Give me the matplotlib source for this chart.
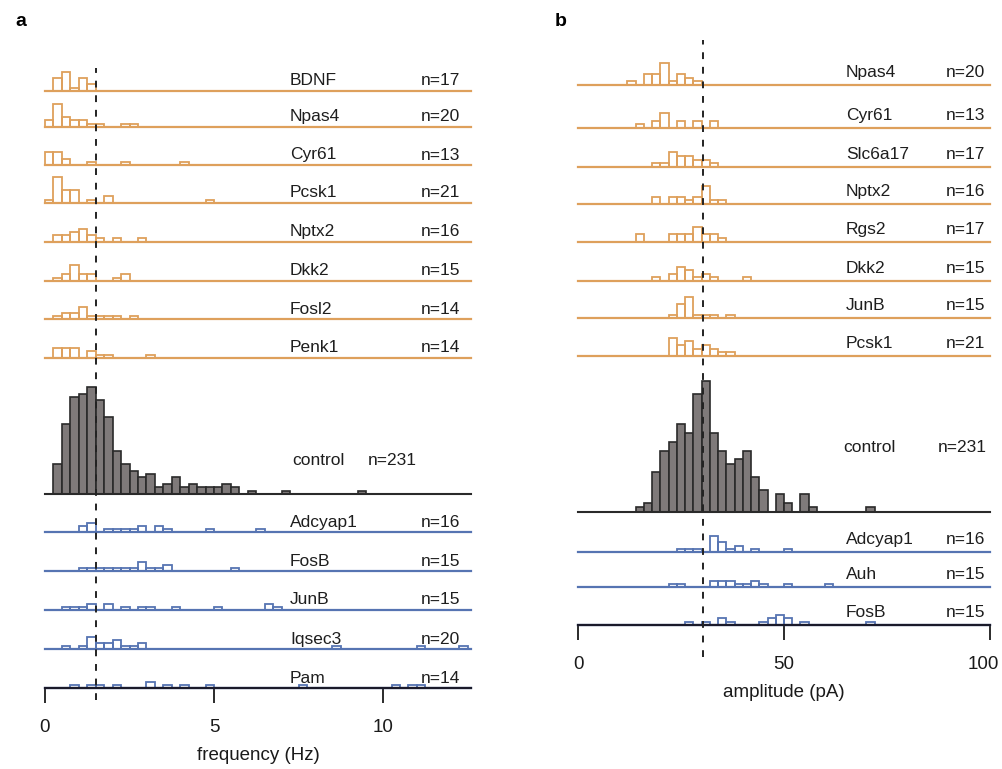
import matplotlib
matplotlib.use("Agg")
import matplotlib.pyplot as plt
from matplotlib.transforms import ScaledTranslation

# ---- data: histogram counts (bin left edge -> count) ----
# panel a: event frequency, 0.25 Hz bins
freq_bw = 0.25
freq_up_genes = ["BDNF", "Npas4", "Cyr61", "Pcsk1", "Nptx2", "Dkk2", "Fosl2", "Penk1"]
freq_up_n = [17, 20, 13, 21, 16, 15, 14, 14]
freq_up_bins = [
    [0.25, 0.5, 0.75, 1.0, 1.25],
    [0, 0.25, 0.5, 0.75, 1.0, 1.25, 1.5, 2.25, 2.5],
    [0, 0.25, 0.5, 1.25, 2.25, 4.0],
    [0, 0.25, 0.5, 0.75, 1.25, 1.75, 4.75],
    [0.25, 0.5, 0.75, 1.0, 1.25, 1.5, 2.0, 2.75],
    [0.25, 0.5, 0.75, 1.0, 1.25, 2.0, 2.25],
    [0.25, 0.5, 0.75, 1.0, 1.25, 1.5, 1.75, 2.0, 2.5],
    [0.25, 0.5, 0.75, 1.25, 1.5, 1.75, 3.0],
]
freq_up_counts = [
    [4, 6, 1, 4, 2],
    [2, 7, 3, 2, 2, 1, 1, 1, 1],
    [4, 4, 2, 1, 1, 1],
    [1, 8, 4, 4, 1, 2, 1],
    [2, 2, 3, 4, 2, 1, 1, 1],
    [1, 2, 5, 2, 2, 1, 2],
    [1, 2, 2, 4, 1, 1, 1, 1, 1],
    [3, 3, 3, 2, 1, 1, 1],
]
freq_ctrl_bins = [0.25, 0.5, 0.75, 1.0, 1.25, 1.5, 1.75, 2.0, 2.25, 2.5, 2.75, 3.0, 3.25,
                  3.5, 3.75, 4.0, 4.25, 4.5, 4.75, 5.0, 5.25, 5.5, 6.0, 7.0, 9.25]
freq_ctrl_counts = [9, 21, 29, 30, 32, 28, 23, 13, 9, 7, 5, 6, 2,
                    3, 5, 2, 3, 2, 2, 2, 3, 2, 1, 1, 1]
freq_ctrl_n = 231
freq_dn_genes = ["Adcyap1", "FosB", "JunB", "Iqsec3", "Pam"]
freq_dn_n = [16, 15, 15, 20, 14]
freq_dn_bins = [
    [1.0, 1.25, 1.75, 2.0, 2.25, 2.5, 2.75, 3.25, 3.5, 4.75, 6.25],
    [1.0, 1.25, 1.5, 1.75, 2.0, 2.25, 2.5, 2.75, 3.0, 3.25, 3.5, 5.5],
    [0.5, 0.75, 1.0, 1.25, 1.75, 2.25, 2.75, 3.0, 3.75, 5.0, 6.5, 6.75],
    [0.5, 1.0, 1.25, 1.5, 1.75, 2.0, 2.25, 2.5, 2.75, 8.5, 11.0, 12.25],
    [0.75, 1.25, 1.5, 2.0, 3.0, 3.5, 4.0, 4.75, 7.5, 10.25, 10.75, 11.0],
]
freq_dn_counts = [
    [2, 3, 1, 1, 1, 1, 2, 2, 1, 1, 1],
    [1, 1, 1, 1, 1, 1, 1, 3, 1, 1, 2, 1],
    [1, 1, 1, 2, 2, 1, 1, 1, 1, 1, 2, 1],
    [1, 1, 4, 2, 2, 3, 1, 1, 2, 1, 1, 1],
    [1, 1, 1, 1, 2, 1, 1, 1, 1, 1, 1, 1],
]
freq_median = 1.5

# panel b: event amplitude, 2 pA bins
amp_bw = 2
amp_up_genes = ["Npas4", "Cyr61", "Slc6a17", "Nptx2", "Rgs2", "Dkk2", "JunB", "Pcsk1"]
amp_up_n = [20, 13, 17, 16, 17, 15, 15, 21]
amp_up_bins = [
    [12, 16, 18, 20, 22, 24, 26, 28],
    [14, 18, 20, 24, 28, 32],
    [18, 20, 22, 24, 26, 28, 30, 32],
    [18, 22, 24, 26, 28, 30, 32, 34],
    [14, 22, 24, 26, 28, 30, 32, 34],
    [18, 22, 24, 26, 28, 30, 32, 40],
    [22, 24, 26, 28, 30, 32, 36],
    [22, 24, 26, 28, 30, 32, 34, 36],
]
amp_up_counts = [
    [1, 3, 3, 6, 1, 3, 2, 1],
    [1, 2, 4, 2, 2, 2],
    [1, 1, 4, 3, 3, 2, 2, 1],
    [2, 2, 2, 1, 2, 5, 1, 1],
    [2, 2, 2, 2, 4, 2, 2, 1],
    [1, 2, 4, 3, 1, 2, 1, 1],
    [1, 4, 6, 1, 1, 1, 1],
    [5, 3, 4, 2, 3, 2, 1, 1],
]
amp_ctrl_bins = [14, 16, 18, 20, 22, 24, 26, 28, 30, 32, 34, 36, 38, 40, 42, 44,
                 48, 50, 54, 56, 70]
amp_ctrl_counts = [1, 2, 9, 14, 16, 20, 18, 27, 30, 18, 14, 11, 12, 14, 8, 5,
                   4, 2, 4, 1, 1]
amp_ctrl_n = 231
amp_dn_genes = ["Adcyap1", "Auh", "FosB"]
amp_dn_n = [16, 15, 15]
amp_dn_bins = [
    [24, 26, 28, 32, 34, 36, 38, 42, 50],
    [22, 24, 32, 34, 36, 38, 40, 42, 44, 50, 60],
    [26, 30, 34, 36, 44, 46, 48, 50, 54, 70],
]
amp_dn_counts = [
    [1, 1, 1, 5, 3, 1, 2, 1, 1],
    [1, 1, 2, 2, 2, 1, 1, 2, 1, 1, 1],
    [1, 1, 2, 1, 1, 2, 3, 2, 1, 1],
]
amp_median = 30.3

# ---- layout (pixels of the 1003x769 figure) ----
W, H = 1003, 769
ORANGE = "#DEA05C"
BLUE = "#5674B2"
FILL = "#7f7a7a"
EDGE = "#2a2a2a"
TXT = "#1e1e1e"

plt.rcParams["font.family"] = ["Liberation Sans", "DejaVu Sans"]

fig = plt.figure(figsize=(W / 100, H / 100), dpi=100)

PANELS = {
    "a": dict(x0=45, width=426, xmax=12.6, bw=freq_bw,
              name_x=0.575, n_x=0.974, dy=5.5,
              ctrl_name_x=0.581, ctrl_n_x=0.872, ctrl_dy=29),
    "b": dict(x0=578, width=412, xmax=100, bw=amp_bw,
              name_x=0.65, n_x=0.988, dy=8,
              ctrl_name_x=0.643, ctrl_n_x=0.993, ctrl_dy=60),
}


def row_axes(p, base, height):
    ax = fig.add_axes([p["x0"] / W, 1 - base / H, p["width"] / W, height / H])
    ax.set_xlim(0, p["xmax"])
    ax.patch.set_visible(False)
    for s in ax.spines.values():
        s.set_visible(False)
    ax.set_xticks([])
    ax.set_yticks([])
    return ax


def hist_row(p, base, height, ppc, bins, counts, color, name, n, control=False,
             axis=None):
    ax = row_axes(p, base, height)
    ax.set_ylim(0, height / ppc)
    if control:
        ax.bar(bins, counts, width=p["bw"], align="edge", color=FILL,
               edgecolor=EDGE, linewidth=1.2, clip_on=False)
        ax.axhline(0, color=EDGE, lw=1.5, clip_on=False)
        dy, nx, tx = p["ctrl_dy"], p["ctrl_n_x"], p["ctrl_name_x"]
    else:
        ax.bar(bins, counts, width=p["bw"], align="edge", fill=False,
               edgecolor=color, linewidth=1.3, clip_on=False)
        ax.axhline(0, color=color, lw=1.6, clip_on=False)
        dy, nx, tx = p["dy"], p["n_x"], p["name_x"]
    ax.annotate(name, xy=(tx, 0), xycoords="axes fraction", xytext=(0, dy * 0.72),
                textcoords="offset points", ha="left", va="baseline",
                fontsize=12.5, color=TXT)
    ax.annotate(f"n={n}", xy=(nx, 0), xycoords="axes fraction", xytext=(0, dy * 0.72),
                textcoords="offset points", ha="right", va="baseline",
                fontsize=12.5, color=TXT)
    if axis is not None:
        ax.spines["bottom"].set_visible(True)
        ax.spines["bottom"].set_color("#1a1a2a")
        ax.spines["bottom"].set_linewidth(1.6)
        ax.set_xticks(axis["ticks"])
        ax.tick_params(axis="x", direction="out", length=11, width=1.3,
                       pad=11, labelsize=13.5, colors="#1a1a1a")
        ax.set_xlabel(axis["label"], fontsize=13.5, labelpad=8, color="#1a1a1a")
    return ax


# panel a
pa = PANELS["a"]
a_up_base = [90.7, 126.7, 165, 202.7, 241.7, 280.7, 319.3, 357.7]
a_dn_base = [532.3, 571.3, 610, 649.3, 688.3]
for i, g in enumerate(freq_up_genes):
    hist_row(pa, a_up_base[i], 34, 3.2, freq_up_bins[i], freq_up_counts[i],
             ORANGE, g, freq_up_n[i])
hist_row(pa, 494, 120, 3.34, freq_ctrl_bins, freq_ctrl_counts, None,
         "control", freq_ctrl_n, control=True)
for i, g in enumerate(freq_dn_genes):
    last = i == len(freq_dn_genes) - 1
    hist_row(pa, a_dn_base[i], 34, 3.1, freq_dn_bins[i], freq_dn_counts[i],
             BLUE, g, freq_dn_n[i],
             axis=dict(ticks=[0, 5, 10], label="frequency (Hz)") if last else None)

# panel b
pb = PANELS["b"]
b_up_base = [85, 127.7, 166.7, 204, 241.7, 281, 318.3, 355.7]
b_dn_base = [552.3, 587.3, 625]
for i, g in enumerate(amp_up_genes):
    hist_row(pb, b_up_base[i], 34, 3.6, amp_up_bins[i], amp_up_counts[i],
             ORANGE, g, amp_up_n[i])
hist_row(pb, 511.7, 140, 4.37, amp_ctrl_bins, amp_ctrl_counts, None,
         "control", amp_ctrl_n, control=True)
for i, g in enumerate(amp_dn_genes):
    last = i == len(amp_dn_genes) - 1
    axb = hist_row(pb, b_dn_base[i], 34, 3.3, amp_dn_bins[i], amp_dn_counts[i],
                   BLUE, g, amp_dn_n[i],
                   axis=dict(ticks=[0, 50, 100], label="amplitude (pA)") if last else None)

# keep the "100" label inside the figure edge
fig.canvas.draw()
lab100 = axb.get_xticklabels()[-1]
lab100.set_transform(lab100.get_transform() + ScaledTranslation(-0.07, 0, fig.dpi_scale_trans))

# dashed median lines over each panel
for p, top, bottom, med in [(pa, 68, 700, freq_median), (pb, 40, 657, amp_median)]:
    ov = fig.add_axes([p["x0"] / W, 1 - bottom / H, p["width"] / W, (bottom - top) / H])
    ov.set_xlim(0, p["xmax"])
    ov.axis("off")
    ov.axvline(med, color="#222222", lw=1.4, ls=(0, (3.5, 4)))

fig.text(15 / W, 1 - 22 / H, "a", fontsize=14, fontweight="bold", va="center")
fig.text(555 / W, 1 - 22 / H, "b", fontsize=14, fontweight="bold", va="center")

fig.savefig("out.png", dpi=100)
